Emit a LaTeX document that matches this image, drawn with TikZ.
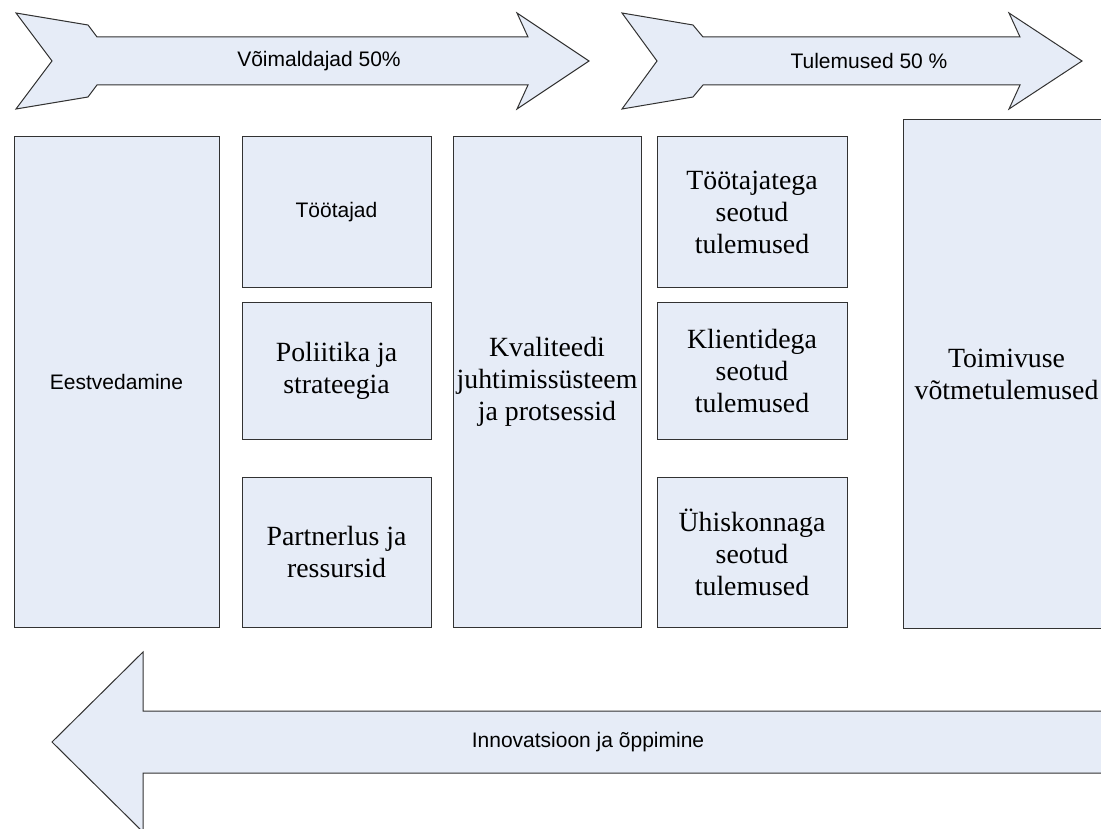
\documentclass[tikz,border=0pt]{standalone}
\usepackage{fontspec}
\setmainfont{Liberation Serif}
\setsansfont{Liberation Sans}
\usetikzlibrary{positioning}

\definecolor{boxfill}{RGB}{230,236,247}
\definecolor{boxline}{RGB}{50,50,50}

\tikzstyle{blk} = [draw = boxline, fill = boxfill, line width = 1pt, rectangle,
                   anchor = north west, inner sep = 0pt, outer sep = 0pt, align = center,
                   font = \fontsize{27.8}{32}\selectfont]
\tikzstyle{sblk} = [blk, font = \sffamily\fontsize{21}{24}\selectfont]
\tikzstyle{bigarrow} = [draw = boxline, fill = boxfill, line width = 1pt, line join = miter]
\tikzstyle{lbl} = [font = \sffamily\fontsize{21}{24}\selectfont, inner sep = 0pt]

\begin{document}
\begin{tikzpicture}[x = 1pt, y = -1pt]
        \useasboundingbox (0, 0) rectangle (1101, 829);
        \clip (0, 0) rectangle (1101, 829);

        % Top arrows
        \draw[bigarrow] (16, 13) -- (88, 25) -- (97, 37) -- (528, 37) -- (517, 13)
                     -- (589, 61) -- (517, 109) -- (528, 85) -- (97, 85) -- (88, 97)
                     -- (16, 109) -- (52, 61) -- cycle;
        \draw[bigarrow] (622, 13) -- (693, 25) -- (703, 37) -- (1020, 37) -- (1009, 13)
                     -- (1082, 61) -- (1009, 109) -- (1020, 85) -- (703, 85) -- (693, 97)
                     -- (622, 109) -- (657, 61) -- cycle;
        \node[lbl] (enablers) at (319, 61) {Võimaldajad 50\%};
        \node[lbl] (results)  at (869, 61) {Tulemused 50 \%};

        % Boxes
        \node[sblk, minimum width = 205pt, minimum height = 490pt] (lead)  at (14, 137)  {Eestvedamine};
        \node[sblk, minimum width = 189pt, minimum height = 151pt] (staff) at (242, 137) {Töötajad};
        \node[blk,  minimum width = 189pt, minimum height = 136pt] (policy) at (242, 303) {Poliitika ja\\strateegia};
        \node[blk,  minimum width = 189pt, minimum height = 150pt] (partner) at (242, 477) {Partnerlus ja\\ressursid};
        \node[blk,  minimum width = 188pt, minimum height = 490pt] (quality) at (453, 137) {Kvaliteedi\\juhtimissüsteem\\ja protsessid};
        \node[blk,  minimum width = 190pt, minimum height = 151pt] (staffres) at (657, 137) {Töötajatega\\seotud\\tulemused};
        \node[blk,  minimum width = 190pt, minimum height = 136pt] (clientres) at (657, 303) {Klientidega\\seotud\\tulemused};
        \node[blk,  minimum width = 190pt, minimum height = 150pt] (socres) at (657, 477) {Ühiskonnaga\\seotud\\tulemused};
        \node[blk,  minimum width = 207pt, minimum height = 508pt] (keyres) at (903, 120) {Toimivuse\\võtmetulemused};

        % Bottom arrow
        \draw[bigarrow] (52, 742) -- (143, 652) -- (143, 711) -- (1120, 711) -- (1120, 773)
                     -- (143, 773) -- (143, 832) -- cycle;
        \node[lbl] (learning) at (588, 742) {Innovatsioon ja õppimine};
\end{tikzpicture}
\end{document}
